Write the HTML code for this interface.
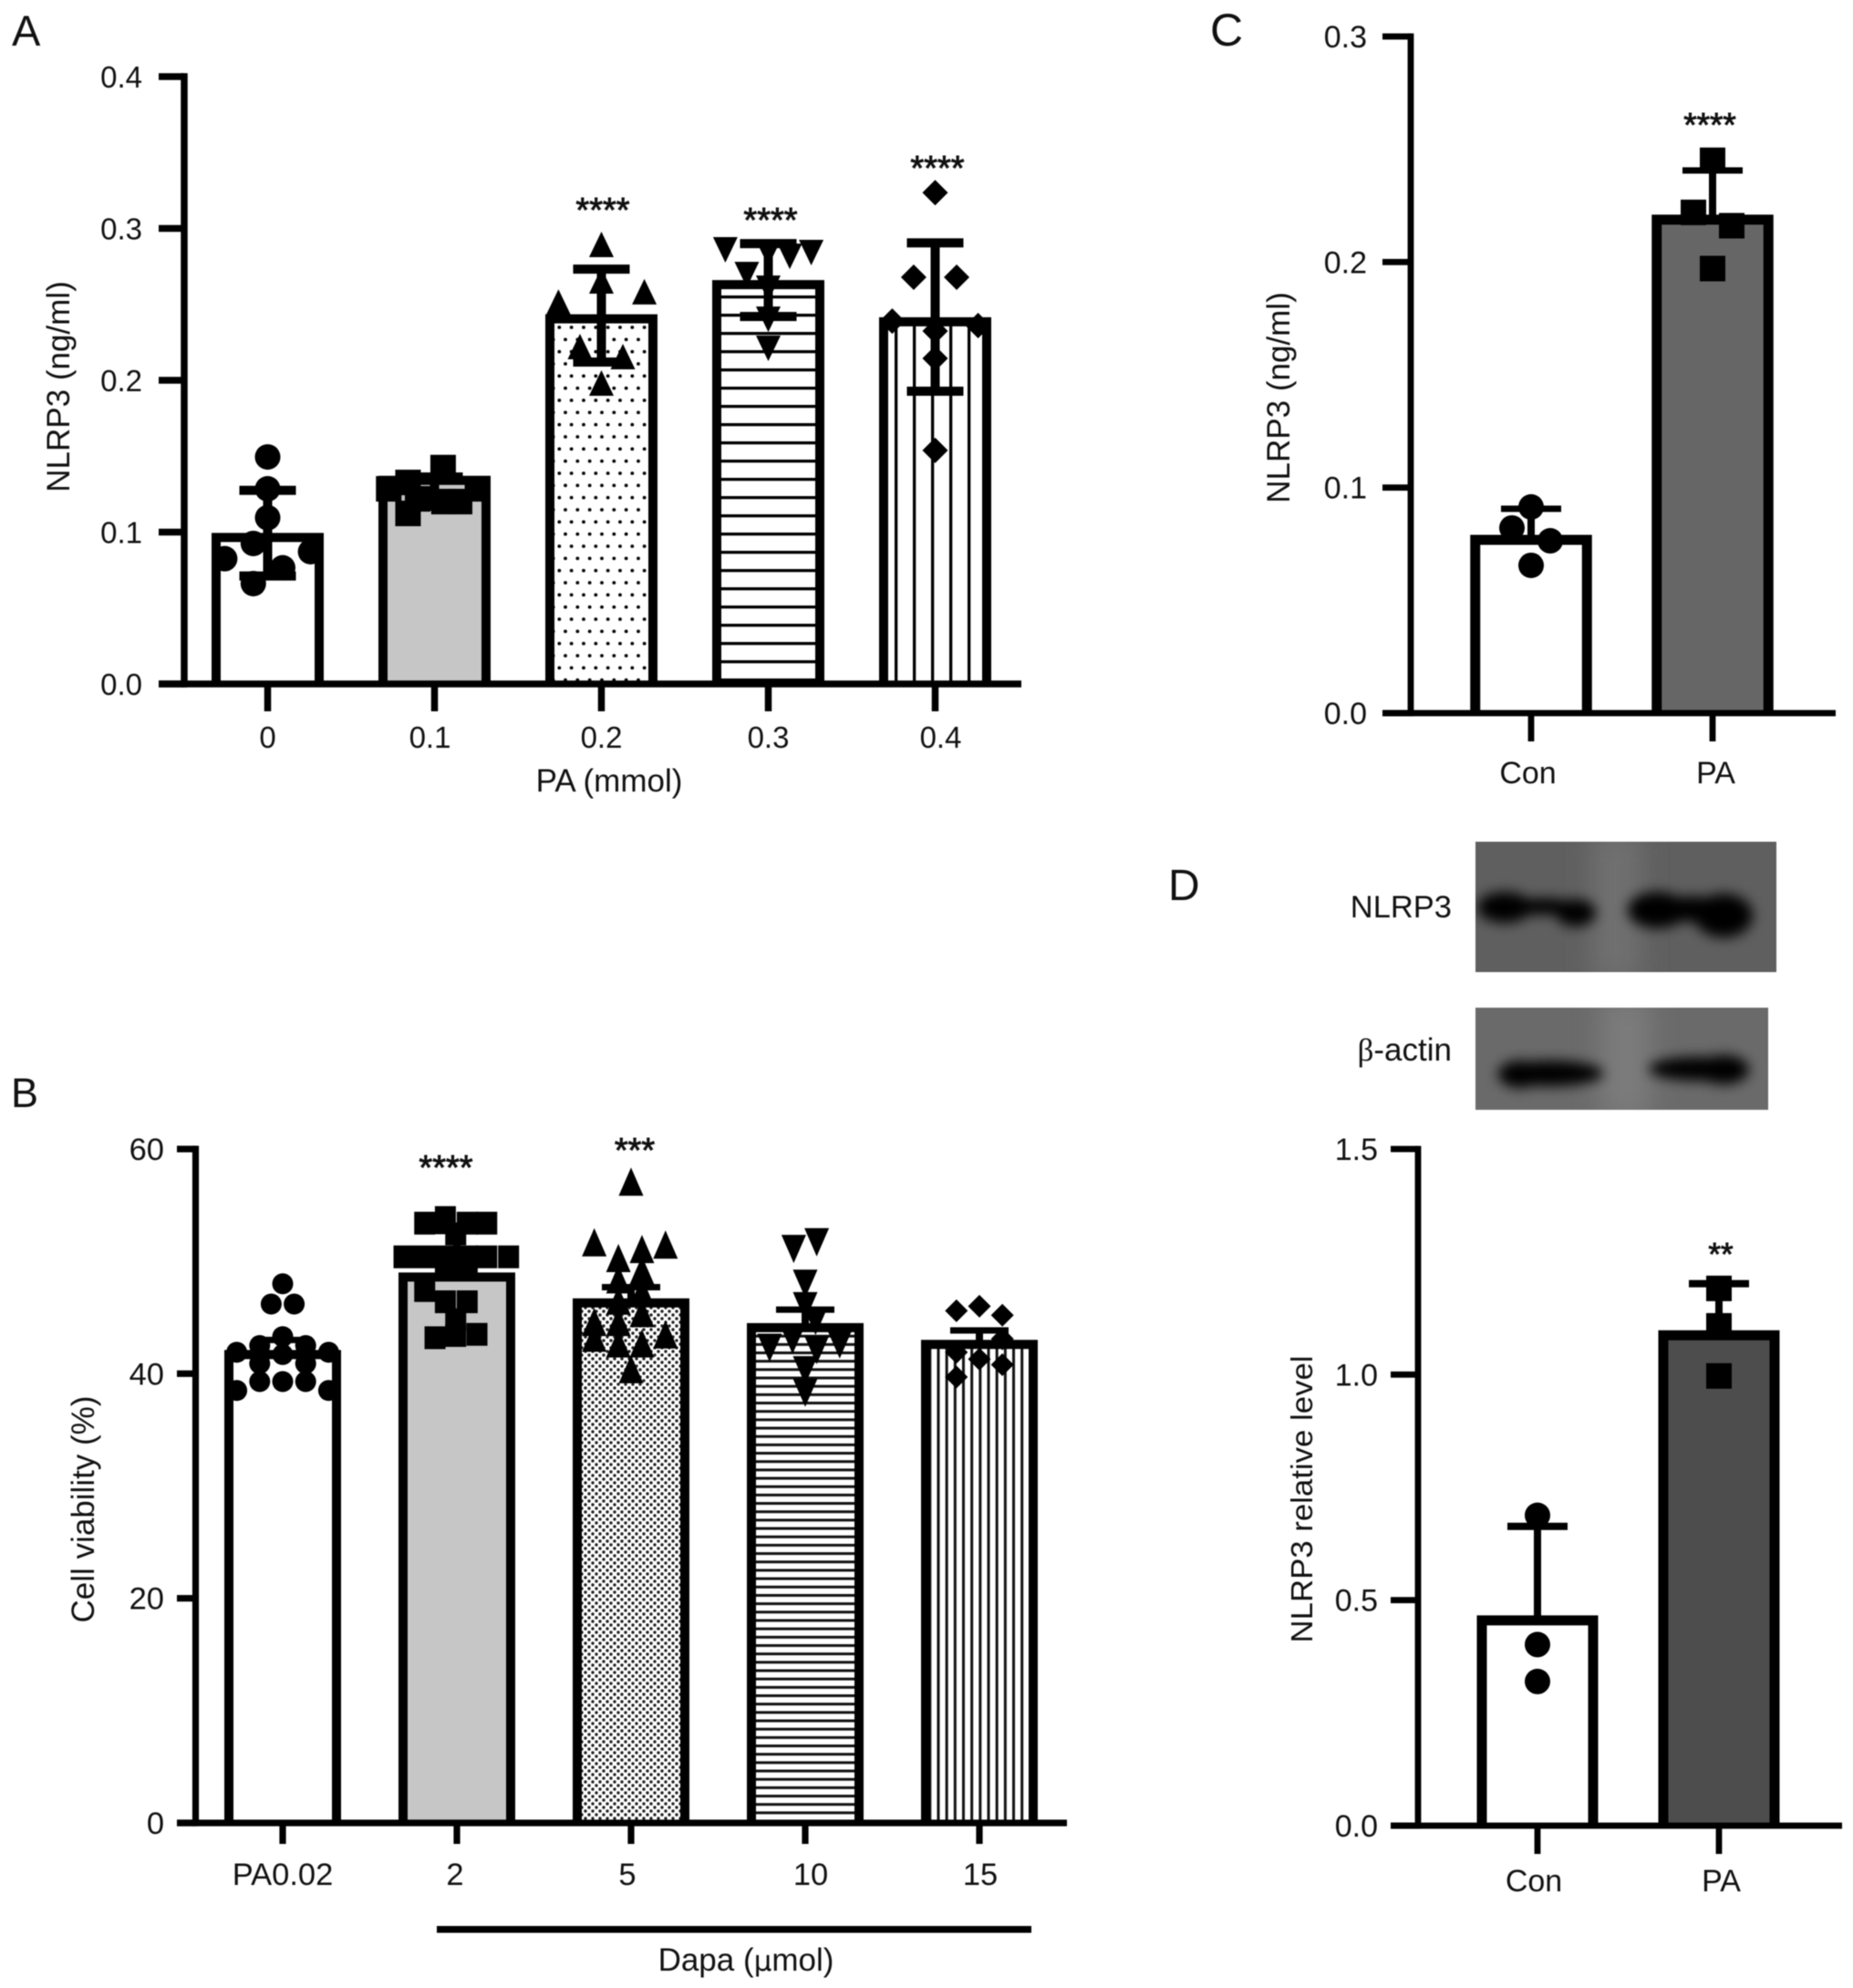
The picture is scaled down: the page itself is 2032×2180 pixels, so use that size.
<!DOCTYPE html>
<html lang="en">
<head>
<meta charset="utf-8">
<title>NLRP3 figure</title>
<style>
html,body{margin:0;padding:0;background:#fff;}
#figure{display:block;width:2032px;height:2180px;filter:blur(0.5px);}
text{font-family:"Liberation Sans","DejaVu Sans",sans-serif;fill:#111;}
</style>
</head>
<body>
<svg id="figure" xmlns="http://www.w3.org/2000/svg" width="2032" height="2180" viewBox="0 0 2032 2180">
<defs>
  <pattern id="p-a-dots" patternUnits="userSpaceOnUse" x="610" y="352.3" width="13.33" height="26.67">
    <rect width="13.33" height="26.67" fill="#fff"/><circle cx="3.33" cy="6.67" r="1.9" fill="#000"/><circle cx="10" cy="20" r="1.9" fill="#000"/>
  </pattern>
  <pattern id="p-a-hlines" patternUnits="userSpaceOnUse" x="0" y="324" width="20" height="20">
    <rect width="20" height="20" fill="#fff"/><rect width="20" height="3.3" fill="#000"/>
  </pattern>
  <pattern id="p-a-vlines" patternUnits="userSpaceOnUse" x="981" y="0" width="20" height="20">
    <rect width="20" height="20" fill="#fff"/><rect width="3.3" height="20" fill="#000"/>
  </pattern>
  <pattern id="p-b-dots" patternUnits="userSpaceOnUse" x="0" y="0" width="8" height="8">
    <rect width="8" height="8" fill="#fff"/><circle cx="2" cy="2" r="1.7" fill="#222"/><circle cx="6" cy="6" r="1.7" fill="#222"/>
  </pattern>
  <pattern id="p-b-hlines" patternUnits="userSpaceOnUse" x="0" y="1491.2" width="9.17" height="9.17">
    <rect width="9.17" height="9.17" fill="#fff"/><rect width="9.17" height="3" fill="#111"/>
  </pattern>
  <pattern id="p-b-vlines" patternUnits="userSpaceOnUse" x="1027.5" y="0" width="9.17" height="9.17">
    <rect width="9.17" height="9.17" fill="#fff"/><rect width="3" height="9.17" fill="#111"/>
  </pattern>
  <filter id="band-blur" x="-40%" y="-100%" width="180%" height="300%"><feGaussianBlur stdDeviation="7"/></filter>
  <filter id="wash-blur" x="-60%" y="-30%" width="220%" height="160%"><feGaussianBlur stdDeviation="14"/></filter>
  <clipPath id="clip-blot-1"><rect x="1618" y="923" width="330" height="143"/></clipPath>
  <clipPath id="clip-blot-2"><rect x="1618" y="1105" width="321" height="112"/></clipPath>
</defs>

<text x="13" y="50" font-size="47">A</text>
<text x="12" y="1214" font-size="45">B</text>
<text x="1327" y="50" font-size="50">C</text>
<text x="1281" y="987" font-size="48">D</text>

<text transform="translate(76 424) rotate(-90)" text-anchor="middle" font-size="35">NLRP3 (ng/ml)</text>
<text x="668" y="868" text-anchor="middle" font-size="35">PA (mmol)</text>
<text transform="translate(103 1655) rotate(-90)" text-anchor="middle" font-size="35">Cell viability (%)</text>
<text x="818" y="2161" text-anchor="middle" font-size="35">Dapa (<tspan font-family="'DejaVu Sans',sans-serif" font-size="31">μ</tspan>mol)</text>
<rect x="479" y="2112" width="652" height="7.5" fill="#000"/>
<text transform="translate(1414 436) rotate(-90)" text-anchor="middle" font-size="35">NLRP3 (ng/ml)</text>
<text transform="translate(1439 1644) rotate(-90)" text-anchor="middle" font-size="33" textLength="315" lengthAdjust="spacingAndGlyphs">NLRP3 relative level</text>

<g clip-path="url(#clip-blot-1)">
  <rect x="1618" y="923" width="330" height="143" fill="#5f5f5f"/>
  <rect x="1745" y="913" width="55" height="163" fill="#6f6f6f" filter="url(#wash-blur)"/>
  <g fill="#000" filter="url(#band-blur)">
    <ellipse cx="1650" cy="995" rx="30" ry="17"/><ellipse cx="1693" cy="994" rx="36" ry="9"/><ellipse cx="1728" cy="1001" rx="22" ry="15"/>
    <ellipse cx="1817" cy="998" rx="32" ry="20"/><ellipse cx="1855" cy="997" rx="42" ry="14"/><ellipse cx="1890" cy="1004" rx="32" ry="24"/>
  </g>
</g>
<g clip-path="url(#clip-blot-2)">
  <rect x="1618" y="1105" width="321" height="112" fill="#6a6a6a"/>
  <rect x="1755" y="1095" width="55" height="132" fill="#7b7b7b" filter="url(#wash-blur)"/>
  <g fill="#000" filter="url(#band-blur)">
    <ellipse cx="1700" cy="1177" rx="58" ry="14"/><ellipse cx="1667" cy="1178" rx="24" ry="15"/>
    <ellipse cx="1862" cy="1172" rx="54" ry="13"/><ellipse cx="1890" cy="1173" rx="28" ry="16"/>
  </g>
</g>
<text x="1592" y="1006" text-anchor="end" font-size="34.5">NLRP3</text>
<text x="1592" y="1163" text-anchor="end" font-size="35"><tspan font-family="'Liberation Serif',serif">β</tspan>-actin</text>

<g id="charts"></g>
</svg>

<script>
/* ---------- Panel A data ---------- */
const aCategories = ['0', '0.1', '0.2', '0.3', '0.4'];
const aYTicks = ['0.0', '0.1', '0.2', '0.3', '0.4'];
const aMeans = [0.0965, 0.1341, 0.2405, 0.263, 0.2385];
const aUpper = [0.1275, 0.1363, 0.2732, 0.290, 0.2905];
const aLower = [0.0711, 0.1171, 0.212, 0.242, 0.1928];
const aStars = ['', '', '****', '****', '****'];
const aValues0 = [0.1495, 0.1285, 0.1095, 0.0925, 0.0825, 0.0871, 0.0765, 0.0661];
const aValues1 = [0.1425, 0.1327, 0.1123, 0.1285, 0.1285, 0.1201, 0.1201, 0.1219];
const aValues2 = [0.2895, 0.2655, 0.2515, 0.2583, 0.2222, 0.2156, 0.1982];
const aValues3 = [0.2859, 0.2696, 0.2606, 0.2816, 0.2841, 0.2402, 0.221, 0.2836];
const aValues4 = [0.3236, 0.2679, 0.2679, 0.239, 0.236, 0.2324, 0.2144, 0.1538];
const aColumns0 = [0, 0, 0, -1, -3, 3, 1.05, -1];
const aColumns1 = [0.6, -1.85, -1.85, -3.2, 3, 0.66, 1.75, -1.18];
const aColumns2 = [0, 0, -3, 3, -1.5, 1.5, 0];
const aColumns3 = [-3, -1.5, 0, 1.5, 3, 0, 0, 0];
const aColumns4 = [0, -1.5, 1.5, -3, 3, 0, 0, 0];

/* ---------- Panel B data ---------- */
const bCategories = ['PA0.02', '2', '5', '10', '15'];
const bYTicks = ['0', '20', '40', '60'];
const bMeans = [41.7, 48.6, 46.3, 44.1, 42.6];
const bUpper = [43.0, 52.7, 47.7, 45.7, 43.85];
const bStars = ['', '****', '***', '', ''];
const bValues0 = [48.0, 46.2, 46.2, 43.3, 42.5, 42.5, 41.9, 41.9, 41.7, 40.9, 40.9, 39.3, 39.3, 39.3, 38.5, 38.5];
const bValues1 = [53.9, 53.4, 53.4, 53.4, 52.45, 50.4, 50.4, 50.4, 50.4, 50.4, 50.4, 49.4, 49.4, 47.4, 46.4, 46.4, 44.8, 43.2, 43.5, 43.4];
const bValues2 = [57.1, 51.7, 51.5, 50.3, 48.4, 46.5, 44.6, 42.7, 51.1, 49.2, 47.3, 45.4, 42.7, 44.6, 43.2, 43.5, 40.4];
const bValues3 = [51.1, 51.7, 48.0, 46.0, 44.7, 42.3, 43.0, 42.1, 42.6, 40.3, 38.3];
const bValues4 = [45.6, 46.0, 45.2, 43.1, 41.9, 41.3, 40.8, 39.7];
const bColumns0 = [0, -1, 1, 0, -2, 2, -4, 4, 0, -2, 2, -2, 0, 2, -4, 4];
const bColumns1 = [-1, -2.8, 2.6, 0.9, -0.1, -4.6, -2.8, -1, 0.9, 2.6, 4.5, -1, 0.9, -2.8, -1, 0.9, -0.1, -1.9, 1.75, -0.1];
const bColumns2 = [0, -3.2, 3, -1.1, -1.1, -1.1, -1.1, -1.1, 0.95, 0.95, 0.95, 0.95, 0.95, -3.2, -3.2, 3, 0];
const bColumns3 = [-1, 1, 0, 0, 0.9, -3.1, -1.1, 1, 3, 0, 0];
const bColumns4 = [-2, 0, 2, 2, -2, 0, 2, -2];

/* ---------- Panel C data ---------- */
const cCategories = ['Con', 'PA'];
const cYTicks = ['0.0', '0.1', '0.2', '0.3'];
const cMeans = [0.0768, 0.2188];
const cUpper = [0.0906, 0.2406];
const cStars = ['', '****'];
const cValues0 = [0.0914, 0.0821, 0.0764, 0.0655];
const cValues1 = [0.2451, 0.2220, 0.2161, 0.1971];
const cColumns0 = [0, -1, 1, 0];
const cColumns1 = [0, -1, 1, 0];

/* ---------- Panel D data ---------- */
const dCategories = ['Con', 'PA'];
const dYTicks = ['0.0', '0.5', '1.0', '1.5'];
const dMeans = [0.455, 1.087];
const dUpper = [0.6635, 1.2015];
const dStars = ['', '**'];
const dValues0 = [0.688, 0.4015, 0.3196];
const dValues1 = [1.191, 1.108, 0.997];
const dColumns0 = [0, 0, 0];
const dColumns1 = [0, 0, 0];

const SVG_NS = 'http://www.w3.org/2000/svg';
const root = document.getElementById('charts');

function create(parent, tag, attrs) {
  const node = document.createElementNS(SVG_NS, tag);
  for (const key in attrs) node.setAttribute(key, attrs[key]);
  parent.appendChild(node);
  return node;
}

function markerPath(shape, cx, cy, w, h) {
  if (shape === 'up') return (cx) + ',' + (cy - h / 2) + ' ' + (cx + w / 2) + ',' + (cy + h / 2) + ' ' + (cx - w / 2) + ',' + (cy + h / 2);
  if (shape === 'down') return (cx) + ',' + (cy + h / 2) + ' ' + (cx + w / 2) + ',' + (cy - h / 2) + ' ' + (cx - w / 2) + ',' + (cy - h / 2);
  return (cx) + ',' + (cy - h / 2) + ' ' + (cx + w / 2) + ',' + (cy) + ' ' + (cx) + ',' + (cy + h / 2) + ' ' + (cx - w / 2) + ',' + (cy);
}

function drawMarker(g, panel, series, shape, cx, cy, w, h) {
  let el;
  if (shape === 'circle') {
    el = create(g, 'circle', { cx: cx, cy: cy, r: w / 2, fill: '#000' });
  } else if (shape === 'square') {
    el = create(g, 'rect', { x: cx - w / 2, y: cy - h / 2, width: w, height: h, fill: '#000' });
  } else {
    el = create(g, 'polygon', { points: markerPath(shape, cx, cy, w, h), fill: '#000' });
  }
  
  
}

function drawChart(cfg) {
  const g = create(root, 'g', {});
  
  

  const xAt = function (i) { return cfg.first + i * cfg.step; };
  const yAt = function (v) { return cfg.base - (v / cfg.max) * (cfg.base - cfg.top); };

  /* bars: three-sided outline, open at the axis */
  cfg.categories.forEach(function (cat, i) {
    const top = yAt(cfg.means[i]);
    const l = xAt(i) - cfg.barW / 2;
    const r = xAt(i) + cfg.barW / 2;
    const bar = create(g, 'path', {
      d: 'M' + l + ' ' + cfg.base + ' V' + top + ' H' + r + ' V' + cfg.base,
      fill: cfg.fills[i], stroke: '#000', 'stroke-width': cfg.barStroke, 'stroke-linejoin': 'miter'
    });
    
    
  });

  /* axes */
  const yAxis = create(g, 'rect', { x: cfg.axisX - cfg.axisW / 2, y: yAt(cfg.max) - cfg.axisW / 2, width: cfg.axisW, height: cfg.base - yAt(cfg.max) + cfg.axisW, fill: '#000' });
  
  
  const xAxis = create(g, 'rect', { x: cfg.left, y: cfg.base - cfg.axisW / 2, width: cfg.right - cfg.left, height: cfg.axisW, fill: '#000' });
  
  

  /* y ticks */
  cfg.yTicks.forEach(function (label) {
    const v = parseFloat(label);
    const tick = create(g, 'rect', { x: cfg.left, y: yAt(v) - cfg.axisW / 2, width: cfg.axisX - cfg.left, height: cfg.axisW, fill: '#000' });
    
    
    const text = create(g, 'text', { x: cfg.labelRight, y: yAt(v) + 12, 'text-anchor': 'end', 'font-size': cfg.fontSize });
    
    
    text.textContent = label;
  });

  /* x ticks and labels */
  cfg.categories.forEach(function (cat, i) {
    const tick = create(g, 'rect', { x: xAt(i) - cfg.axisW / 2, y: cfg.base, width: cfg.axisW, height: cfg.tickEnd - cfg.base, fill: '#000' });
    
    
    const text = create(g, 'text', { x: xAt(i) + cfg.labelNudge[i], y: cfg.catBaseline, 'text-anchor': 'middle', 'font-size': cfg.fontSize });
    
    
    text.textContent = cat;
  });

  /* error bars */
  cfg.categories.forEach(function (cat, i) {
    const cx = xAt(i);
    const hi = yAt(cfg.upper[i]);
    const hasLow = !!cfg.lower;
    const lo = hasLow ? yAt(cfg.lower[i]) : yAt(cfg.means[i]);
    const err = create(g, 'g', { fill: '#000' });
    
    
    create(err, 'rect', { x: cx - cfg.stemW / 2, y: hi, width: cfg.stemW, height: lo - hi });
    create(err, 'rect', { x: cx - cfg.capW / 2, y: hi - cfg.capH / 2, width: cfg.capW, height: cfg.capH });
    if (hasLow) create(err, 'rect', { x: cx - cfg.capW / 2, y: lo - cfg.capH / 2, width: cfg.capW, height: cfg.capH });
  });

  /* points */
  cfg.categories.forEach(function (cat, i) {
    const shape = cfg.shapes[i];
    const size = cfg.sizes[shape];
    cfg.values[i].forEach(function (v, k) {
      drawMarker(g, cfg.panel, cat, shape, xAt(i) + cfg.columns[i][k] * cfg.unit, yAt(v), size[0], size[1]);
    });
  });

  /* significance stars */
  cfg.stars.forEach(function (label, i) {
    if (!label) return;
    const pos = cfg.starPos[i];
    const text = create(g, 'text', {
      x: pos[0], y: pos[1] + 0.5 * pos[2], 'text-anchor': 'middle', 'font-size': pos[2],
      stroke: '#111', 'stroke-width': 0.9
    });
    
    
    text.textContent = label;
  });
}

drawChart({
  panel: 'a', categories: aCategories, yTicks: aYTicks, means: aMeans, upper: aUpper, lower: aLower, stars: aStars,
  values: [aValues0, aValues1, aValues2, aValues3, aValues4],
  columns: [aColumns0, aColumns1, aColumns2, aColumns3, aColumns4],
  shapes: ['circle', 'square', 'up', 'down', 'diamond'],
  sizes: { circle: [28, 28], square: [28, 28], up: [27, 28], down: [27, 28], diamond: [28, 28] },
  fills: ['#fff', '#c6c6c6', 'url(#p-a-dots)', 'url(#p-a-hlines)', 'url(#p-a-vlines)'],
  axisX: 202, axisW: 7.5, top: 84, base: 750, max: 0.4, left: 174, right: 1120, first: 293.5, step: 183, tickEnd: 780,
  barW: 113, barStroke: 10, capW: 62, capH: 10, stemW: 10, unit: 15.7,
  labelRight: 156, fontSize: 33, catBaseline: 820, labelNudge: [0, -5, 0, 0, 6],
  starPos: [null, null, [661, 224, 38], [845, 235, 38], [1028, 178, 38]]
});

drawChart({
  panel: 'b', categories: bCategories, yTicks: bYTicks, means: bMeans, upper: bUpper, stars: bStars,
  values: [bValues0, bValues1, bValues2, bValues3, bValues4],
  columns: [bColumns0, bColumns1, bColumns2, bColumns3, bColumns4],
  shapes: ['circle', 'square', 'up', 'down', 'diamond'],
  sizes: { circle: [23, 23], square: [23, 25], up: [27, 31], down: [27, 31], diamond: [25, 25] },
  fills: ['#fff', '#c6c6c6', 'url(#p-b-dots)', 'url(#p-b-hlines)', 'url(#p-b-vlines)'],
  axisX: 214.5, axisW: 7.2, top: 1260, base: 1999, max: 60, left: 194, right: 1170, first: 310, step: 191, tickEnd: 2022,
  barW: 118, barStroke: 10, capW: 64, capH: 7, stemW: 8, unit: 12.6,
  labelRight: 180, fontSize: 34.5, catBaseline: 2067, labelNudge: [0, -2, -4, 6, 1],
  starPos: [null, [489, 1274, 38], [696, 1255, 38], null, null]
});

drawChart({
  panel: 'c', categories: cCategories, yTicks: cYTicks, means: cMeans, upper: cUpper, stars: cStars,
  values: [cValues0, cValues1], columns: [cColumns0, cColumns1],
  shapes: ['circle', 'square'],
  sizes: { circle: [28, 28], square: [28, 28] },
  fills: ['#fff', '#666'],
  axisX: 1547, axisW: 6.8, top: 40, base: 782, max: 0.3, left: 1516, right: 2013, first: 1679, step: 199, tickEnd: 813,
  barW: 122.5, barStroke: 11, capW: 66, capH: 7, stemW: 8, unit: 21,
  labelRight: 1499, fontSize: 34, catBaseline: 859, labelNudge: [-3.5, 3.5],
  starPos: [null, [1875, 131, 37]]
});

drawChart({
  panel: 'd', categories: dCategories, yTicks: dYTicks, means: dMeans, upper: dUpper, stars: dStars,
  values: [dValues0, dValues1], columns: [dColumns0, dColumns1],
  shapes: ['circle', 'square'],
  sizes: { circle: [28, 28], square: [28, 28] },
  fills: ['#fff', '#4d4d4d'],
  axisX: 1555, axisW: 6.8, top: 1260, base: 2002, max: 1.5, left: 1525, right: 2020, first: 1686, step: 199, tickEnd: 2033,
  barW: 122, barStroke: 11, capW: 66, capH: 8, stemW: 8, unit: 21,
  labelRight: 1511, fontSize: 34, catBaseline: 2074, labelNudge: [-4, 2.5],
  starPos: [null, [1887, 1370, 35]]
});
</script>
</body>
</html>
